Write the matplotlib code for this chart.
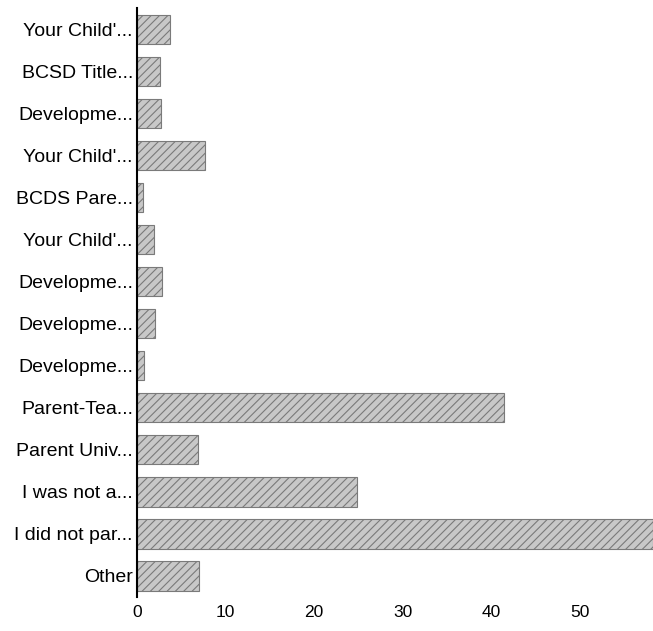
import matplotlib.pyplot as plt

plt.rcParams['font.family'] = ['Liberation Sans', 'DejaVu Sans']
plt.rcParams['hatch.color'] = '#8c8c8c'
plt.rcParams['hatch.linewidth'] = 0.8

# Survey answers, top to bottom as in the chart
categories = [
    "Your Child'...", "BCSD Title...", "Developme...", "Your Child'...",
    "BCDS Pare...", "Your Child'...", "Developme...", "Developme...",
    "Developme...", "Parent-Tea...", "Parent Univ...", "I was not a...",
    "I did not par...", "Other",
]
values = [3.7, 2.6, 2.7, 7.7, 0.7, 1.9, 2.8, 2.0, 0.8, 41.5, 6.9, 24.8, 58.3, 7.0]
xticks = [0, 10, 20, 30, 40, 50]

fig = plt.figure(figsize=(6.53, 6.31), dpi=100)
ax = fig.add_axes([0.21, 0.054, 0.79, 0.933])

ypos = list(range(len(categories)))
ax.barh(ypos, values, height=0.7, color='#c8c8c8',
        edgecolor='#7a7a7a', linewidth=0.8, hatch='////')

ax.set_yticks(ypos)
ax.set_yticklabels(categories, fontsize=14)
ax.set_ylim(len(categories) - 0.5, -0.5)
ax.set_xlim(0, max(values))
ax.set_xticks(xticks)
ax.set_xticklabels([str(t) for t in xticks], fontsize=12.5)
ax.tick_params(axis='both', length=0)
ax.tick_params(axis='x', pad=6)
ax.tick_params(axis='y', pad=3)

for side in ['top', 'right', 'bottom']:
    ax.spines[side].set_visible(False)
ax.spines['left'].set_linewidth(1.5)
ax.spines['left'].set_color('black')

fig.savefig('out.png', dpi=100)
